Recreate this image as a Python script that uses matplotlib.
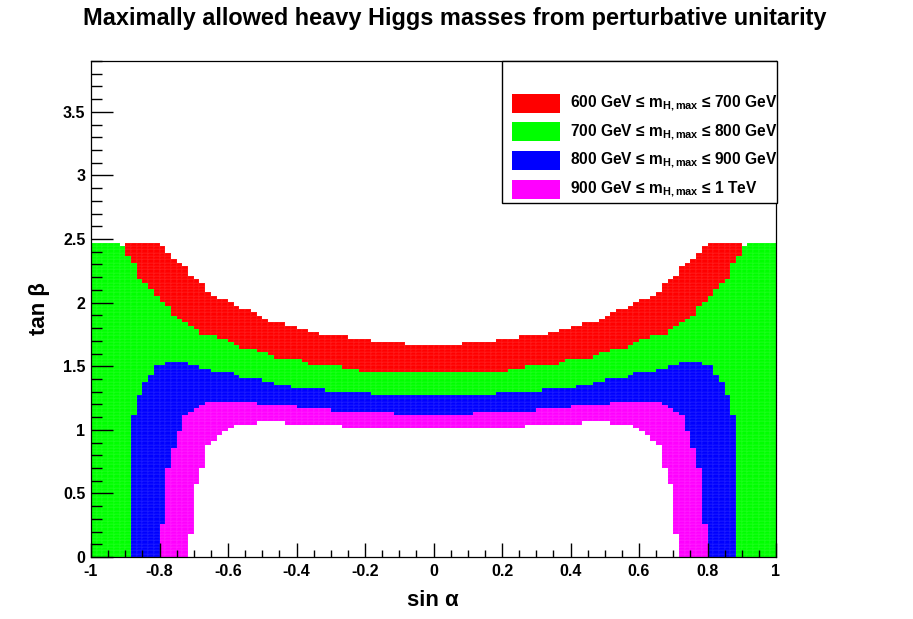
import numpy as np
import matplotlib
matplotlib.use("Agg")
import matplotlib.pyplot as plt
from matplotlib.colors import ListedColormap
from matplotlib.patches import Rectangle
from matplotlib.ticker import MultipleLocator

plt.rcParams["font.family"] = ["Liberation Sans", "DejaVu Sans"]
plt.rcParams["font.weight"] = "bold"
plt.rcParams["mathtext.fontset"] = "custom"
plt.rcParams["mathtext.rm"] = "Liberation Sans:bold"
plt.rcParams["mathtext.it"] = "Liberation Sans:bold"
plt.rcParams["mathtext.bf"] = "Liberation Sans:bold"

# histogram binning: 120 bins in sin(alpha), 150 bins in tan(beta)
n_x, x_lo, x_hi = 120, -1.0, 1.0
n_y, y_lo, y_hi = 150, 0.0, 3.9

# band tops per sin(alpha) column for the left half (sin alpha < 0),
# in units of tan(beta) bins; right half is the mirror image
white_top = [0, 0, 0, 0, 0, 0, 0, 0, 0, 0, 0, 0, 0, 0, 0, 0, 0, 7, 22, 27,
             34, 35, 37, 38, 39, 40, 40, 40, 40, 41, 41, 41, 41, 41, 40, 40, 40, 40, 40, 40,
             40, 40, 40, 40, 39, 39, 39, 39, 39, 39, 39, 39, 39, 39, 39, 39, 39, 39, 39, 39]
magenta_top = [0, 0, 0, 0, 0, 0, 0, 0, 0, 0, 0, 0, 10, 27, 33, 38, 43, 44, 45, 46,
               47, 47, 47, 47, 47, 47, 47, 47, 47, 46, 46, 46, 46, 46, 46, 46, 45, 45, 45, 45,
               45, 45, 44, 44, 44, 44, 44, 44, 44, 44, 44, 44, 44, 43, 43, 43, 43, 43, 43, 43]
blue_top = [0, 0, 0, 0, 0, 0, 0, 43, 49, 53, 55, 58, 58, 59, 59, 59, 59, 58, 58, 57,
            57, 56, 56, 56, 56, 55, 54, 54, 54, 54, 53, 53, 52, 52, 52, 51, 51, 51, 51, 51,
            51, 50, 50, 50, 50, 50, 50, 50, 50, 49, 49, 49, 49, 49, 49, 49, 49, 49, 49, 49]
green_top = [95, 95, 95, 95, 95, 94, 91, 89, 84, 83, 81, 79, 77, 76, 73, 72, 71, 70, 69, 67,
             67, 67, 66, 66, 65, 64, 63, 63, 63, 62, 62, 61, 60, 60, 60, 60, 60, 59, 58, 58,
             58, 58, 58, 58, 57, 57, 57, 56, 56, 56, 56, 56, 56, 56, 56, 56, 56, 56, 56, 56]
red_top = [95, 95, 95, 95, 95, 94, 95, 95, 95, 95, 95, 95, 94, 92, 90, 89, 88, 85, 84, 83,
           80, 79, 78, 78, 77, 76, 75, 75, 74, 73, 72, 71, 71, 71, 70, 70, 69, 69, 68, 68,
           67, 67, 67, 67, 67, 66, 66, 66, 66, 65, 65, 65, 65, 65, 65, 64, 64, 64, 64, 64]

band_colors = ["#ff00ff", "#0000ff", "#00ff00", "#ff0000"]
band_labels = [
    r"900 GeV ≤ m$_{\rm H,max}$ ≤ 1 TeV",
    r"800 GeV ≤ m$_{\rm H,max}$ ≤ 900 GeV",
    r"700 GeV ≤ m$_{\rm H,max}$ ≤ 800 GeV",
    r"600 GeV ≤ m$_{\rm H,max}$ ≤ 700 GeV",
]

# fill the 2D histogram
tops = [white_top, magenta_top, blue_top, green_top, red_top]
full = [np.array(t + t[::-1]) for t in tops]
rows = np.arange(n_y)[:, None]
Z = np.full((n_y, n_x), np.nan)
for k in range(4):
    mask = (rows >= full[k][None, :]) & (rows < full[k + 1][None, :])
    Z[mask] = k

xe = np.linspace(x_lo, x_hi, n_x + 1)
ye = np.linspace(y_lo, y_hi, n_y + 1)

W, H = 913, 619
fig = plt.figure(figsize=(W / 100, H / 100), dpi=100)
ax = fig.add_axes([91 / W, 1 - 557 / H, (776 - 91) / W, (557 - 61) / H])
cmap = ListedColormap(band_colors)
ax.pcolormesh(xe, ye, Z, cmap=cmap, vmin=-0.5, vmax=3.5,
              edgecolors=(1, 1, 1, 0.04), linewidth=0.3)

ax.set_xlim(x_lo, x_hi)
ax.set_ylim(y_lo, y_hi)
ax.xaxis.set_major_locator(MultipleLocator(0.2))
ax.xaxis.set_minor_locator(MultipleLocator(0.05))
ax.yaxis.set_major_locator(MultipleLocator(0.5))
ax.yaxis.set_minor_locator(MultipleLocator(0.1))
ax.tick_params(which="both", direction="in", top=False, right=False,
               width=1, labelsize=11.5)
ax.xaxis.set_tick_params(which="major", length=10, pad=5)
ax.xaxis.set_tick_params(which="minor", length=5)
ax.yaxis.set_tick_params(which="major", length=16, pad=4)
ax.yaxis.set_tick_params(which="minor", length=8)
ax.xaxis.set_major_formatter(plt.FuncFormatter(lambda v, p: f"{round(v, 6):g}"))
ax.yaxis.set_major_formatter(plt.FuncFormatter(lambda v, p: f"{round(v, 6):g}"))
for s in ax.spines.values():
    s.set_linewidth(0.9)

fig.text(455 / W, 1 - 18 / H, "Maximally allowed heavy Higgs masses from perturbative unitarity",
         ha="center", va="center", fontsize=16.9, fontweight="bold")
fig.text(433 / W, 1 - 600 / H, "sin α", ha="center", va="center", fontsize=16, fontweight="bold")
fig.text(39 / W, 1 - 309 / H, "tan β", ha="center", va="center", fontsize=16,
         fontweight="bold", rotation=90)

# legend box, drawn like the ROOT TLegend
def fx(px):
    return px / W

def fy(py):
    return 1 - py / H

fig.add_artist(Rectangle((fx(502), fy(203)), fx(777) - fx(502), fy(61) - fy(203),
                         transform=fig.transFigure, facecolor="white",
                         edgecolor="black", linewidth=1))
entry_y = [189, 160.7, 132, 103.5]
for k in range(4):
    yc = entry_y[k]
    fig.add_artist(Rectangle((fx(512), fy(yc + 9.5)), fx(560) - fx(512), 19 / H,
                             transform=fig.transFigure, facecolor=band_colors[k],
                             edgecolor="none"))
    fig.text(fx(570), fy(yc), band_labels[k], ha="left", va="center", fontsize=11.2,
             fontweight="bold")

fig.savefig("out.png", dpi=100)
